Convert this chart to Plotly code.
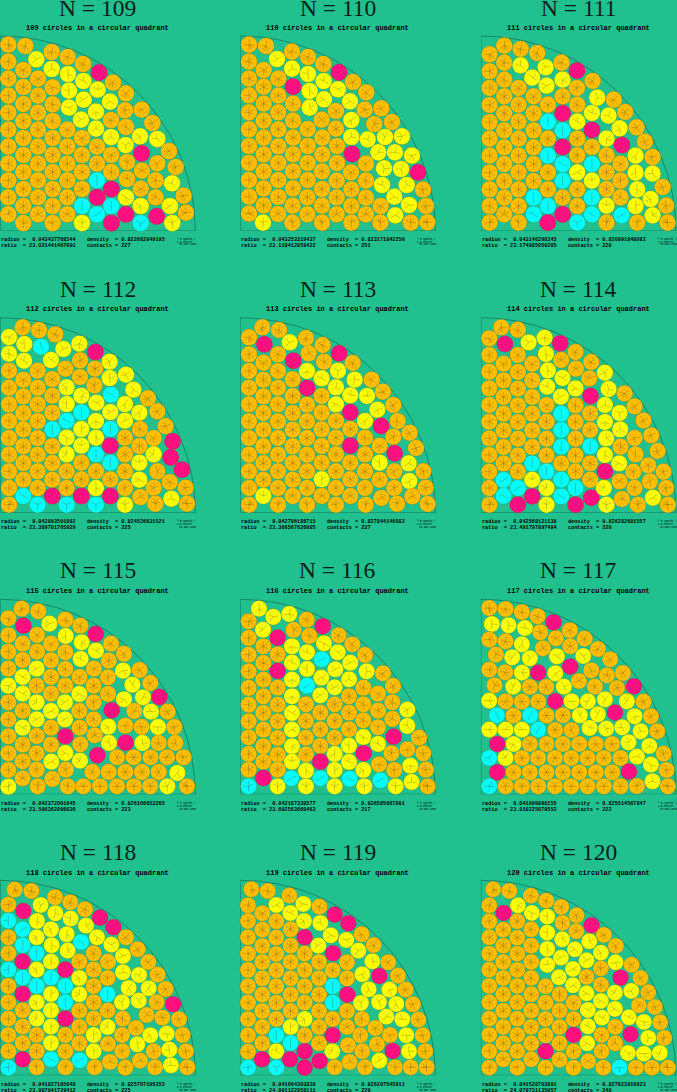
import numpy as np
import plotly.graph_objects as go

# circle centres, (x, y, colour code)
# o orange, y yellow, c cyan, m magenta
N109 = [(25,134,'o'),(25,185,'o'),(25,236,'o'),(25,287,'o'),(25,338,'o'),(25,389,'o'),(25,440,'o'),(25,491,'o'),(25,541,'o'),(25,592,'o'),(25,643,'o'),
        (76,138,'o'),(70,210,'o'),(70,261,'o'),(70,312,'o'),(70,363,'o'),(70,414,'o'),(70,465,'o'),(70,516,'o'),(70,567,'o'),(70,618,'o'),(70,669,'o'),
        (109,178,'y'),(114,236,'o'),(114,287,'o'),(114,338,'o'),(114,389,'o'),(114,440,'o'),(114,491,'o'),(114,541,'o'),(114,592,'o'),(114,643,'o'),
        (155,156,'o'),(155,207,'y'),(158,262,'o'),(158,313,'o'),(158,363,'o'),(158,414,'o'),(158,465,'o'),(158,516,'o'),(158,567,'o'),(158,618,'o'),(158,669,'o'),
        (203,171,'o'),(204,222,'y'),(207,272,'y'),(207,323,'y'),(202,389,'o'),(202,440,'o'),(202,491,'o'),(202,541,'o'),(202,592,'o'),(202,643,'o'),
        (249,192,'o'),(250,243,'y'),(251,299,'y'),(243,359,'y'),(246,414,'o'),(246,465,'o'),(246,516,'o'),(246,567,'o'),(246,618,'c'),(246,669,'y'),
        (297,218,'m'),(293,269,'y'),(288,335,'y'),(288,386,'y'),(291,440,'o'),(291,491,'o'),(291,541,'c'),(291,592,'m'),(291,643,'c'),
        (339,248,'o'),(330,305,'y'),(333,360,'o'),(333,411,'y'),(334,465,'o'),(334,516,'o'),(334,567,'m'),(334,618,'c'),(334,669,'m'),
        (378,280,'o'),(375,331,'o'),(378,381,'o'),(377,435,'y'),(381,486,'o'),(381,537,'o'),(378,592,'y'),(378,643,'m'),
        (425,329,'o'),(420,409,'y'),(425,460,'m'),(426,512,'o'),(422,566,'o'),(422,618,'y'),(422,669,'c'),
        (457,369,'o'),(472,417,'y'),(472,490,'o'),(467,541,'o'),(467,592,'o'),(470,649,'m'),
        (507,453,'o'),(527,501,'o'),(516,550,'y'),(510,618,'y'),(517,669,'y'),(551,587,'o'),(558,638,'o')]

N110 = [(39,44,'o'),(39,95,'o'),(39,146,'o'),(39,196,'o'),(39,247,'o'),(39,298,'o'),(39,348,'o'),(39,399,'o'),(39,450,'o'),(39,500,'o'),(39,551,'o'),
        (90,48,'o'),(83,120,'o'),(83,170,'o'),(83,221,'o'),(83,272,'o'),(83,323,'o'),(83,373,'o'),(83,424,'o'),(83,475,'o'),(83,526,'o'),(81,578,'y'),
        (123,87,'y'),(127,146,'o'),(127,197,'o'),(127,247,'o'),(127,298,'o'),(127,349,'o'),(127,399,'o'),(127,450,'o'),(127,501,'o'),(126,552,'o'),
        (168,65,'o'),(168,116,'y'),(171,170,'m'),(171,221,'o'),(171,272,'o'),(171,323,'o'),(171,373,'o'),(171,424,'o'),(171,475,'o'),(170,527,'o'),(169,578,'o'),
        (216,81,'o'),(216,132,'y'),(221,183,'y'),(221,233,'y'),(215,297,'o'),(215,348,'o'),(215,399,'o'),(215,450,'o'),(214,502,'o'),(214,553,'o'),
        (262,102,'o'),(263,153,'y'),(264,208,'y'),(257,269,'o'),(259,323,'o'),(259,373,'o'),(258,424,'o'),(258,477,'o'),(258,527,'o'),(258,578,'o'),
        (309,127,'m'),(306,178,'y'),(300,243,'o'),(300,296,'o'),(303,348,'o'),(303,399,'o'),(302,452,'o'),(302,502,'o'),(302,553,'o'),
        (351,156,'o'),(342,214,'y'),(346,270,'y'),(346,321,'y'),(348,372,'m'),(345,427,'o'),(346,478,'o'),(346,528,'o'),(346,578,'o'),
        (391,187,'o'),(386,239,'o'),(395,328,'y'),(390,401,'o'),(390,452,'o'),(390,503,'o'),(390,553,'o'),
        (436,235,'o'),(415,282,'o'),(447,321,'y'),(427,367,'y'),(444,415,'y'),(438,465,'y'),(434,528,'o'),(433,578,'o'),
        (468,276,'o'),(498,319,'y'),(477,367,'y'),(495,417,'y'),(475,500,'y'),(478,556,'y'),
        (528,377,'y'),(546,427,'m'),(512,465,'y'),(519,525,'y'),(561,479,'o'),(570,528,'o'),(524,578,'o'),(574,577,'o')]

N111 = [(39,73,'o'),(39,124,'o'),(39,174,'o'),(39,225,'o'),(39,276,'o'),(39,326,'o'),(39,377,'o'),(39,428,'o'),(39,478,'o'),(39,528,'o'),(39,578,'o'),
        (83,47,'o'),(83,98,'o'),(83,149,'o'),(83,199,'o'),(83,250,'o'),(83,301,'o'),(83,352,'o'),(83,402,'o'),(83,453,'o'),(83,503,'o'),(83,553,'o'),
        (132,57,'o'),(132,106,'y'),(126,174,'o'),(126,224,'o'),(126,275,'o'),(126,326,'o'),(126,377,'o'),(126,427,'o'),(126,478,'o'),(126,528,'o'),(126,578,'o'),
        (167,143,'y'),(182,69,'o'),(171,199,'o'),(171,250,'o'),(171,301,'o'),(171,352,'o'),(171,402,'o'),(171,453,'o'),(171,503,'c'),(171,553,'c'),
        (207,112,'y'),(210,167,'y'),(214,224,'o'),(214,275,'c'),(214,326,'o'),(214,377,'c'),(214,427,'o'),(214,478,'o'),(214,528,'c'),(214,578,'m'),
        (255,98,'o'),(258,149,'y'),(258,199,'o'),(258,250,'m'),(258,301,'c'),(258,351,'m'),(258,402,'c'),(258,452,'c'),(258,503,'o'),(258,553,'m'),
        (301,122,'m'),(301,174,'o'),(302,224,'o'),(302,275,'y'),(302,326,'o'),(302,376,'o'),(302,427,'y'),(302,478,'o'),(302,528,'o'),(302,578,'c'),
        (348,153,'o'),(346,249,'y'),(346,300,'m'),(346,351,'o'),(346,402,'c'),(346,452,'y'),(346,503,'c'),(346,553,'c'),(362,203,'y'),
        (412,209,'o'),(396,257,'y'),(390,326,'y'),(390,376,'o'),(390,427,'o'),(390,477,'o'),(390,527,'y'),(390,578,'o'),
        (432,401,'o'),(432,452,'o'),(432,502,'o'),(435,556,'c'),
        (477,377,'y'),(477,428,'y'),(482,478,'y'),(477,528,'y'),(482,578,'o'),
        (528,381,'o'),(528,431,'y'),(522,507,'y'),(528,556,'y'),(573,578,'o'),(569,527,'o'),(558,471,'o'),
        (446,246,'o'),(429,295,'y'),(436,345,'m'),(480,292,'o'),(505,335,'o')]

N112 = [(27,75,'y'),(27,125,'y'),(27,176,'o'),(27,227,'o'),(27,277,'o'),(27,327,'o'),(27,378,'o'),(27,428,'o'),(27,478,'o'),(27,528,'o'),(27,578,'o'),
        (68,46,'o'),(73,96,'y'),(72,146,'y'),(70,203,'o'),(70,253,'o'),(70,303,'o'),(70,352,'o'),(70,403,'o'),(70,453,'o'),(70,503,'o'),(70,552,'c'),
        (117,54,'o'),(123,104,'c'),(113,176,'o'),(113,227,'o'),(113,277,'o'),(113,327,'o'),(113,378,'o'),(113,428,'o'),(113,478,'o'),(113,528,'o'),(113,578,'c'),
        (166,67,'o'),(153,144,'y'),(157,201,'o'),(157,251,'o'),(157,302,'o'),(157,352,'c'),(157,403,'o'),(157,453,'o'),(157,503,'o'),(157,552,'m'),
        (190,111,'y'),(196,170,'o'),(200,226,'y'),(200,276,'y'),(200,326,'c'),(200,377,'y'),(200,427,'y'),(200,478,'o'),(200,528,'o'),(200,578,'c'),
        (238,95,'y'),(240,145,'o'),(240,195,'o'),(244,251,'y'),(244,301,'c'),(244,351,'y'),(244,401,'y'),(244,452,'o'),(244,502,'o'),(244,552,'m'),
        (286,120,'m'),(285,170,'o'),(283,220,'o'),(289,272,'y'),(288,327,'y'),(288,377,'y'),(288,427,'c'),(288,478,'o'),(288,528,'y'),(288,578,'c'),
        (329,149,'y'),(329,198,'y'),(333,248,'c'),(331,300,'y'),(331,351,'c'),(331,401,'m'),(331,452,'c'),(331,502,'o'),(331,552,'m'),
        (378,188,'y'),(400,233,'y'),(375,276,'y'),(375,326,'y'),(375,377,'o'),(375,427,'o'),(375,478,'o'),(375,528,'o'),(375,578,'y'),
        (444,259,'o'),(418,302,'y'),(420,351,'o'),(418,402,'o'),(418,452,'y'),(418,503,'y'),(421,555,'o'),
        (472,298,'o'),(461,378,'o'),(461,427,'y'),(472,478,'o'),(461,527,'o'),(466,575,'o'),
        (497,342,'o'),(518,388,'m'),(512,436,'m'),(546,473,'m'),(509,510,'o'),(514,560,'y'),(557,527,'o'),(561,575,'o')]

N113 = [(747,76,'o'),(747,127,'o'),(747,177,'o'),(747,227,'o'),(747,277,'o'),(747,328,'o'),(747,378,'o'),(747,428,'o'),(747,478,'o'),(747,528,'o'),(747,578,'o'),
        (787,46,'o'),(793,97,'m'),(790,152,'o'),(790,203,'o'),(790,253,'o'),(790,303,'o'),(790,353,'o'),(790,403,'o'),(790,453,'o'),(790,503,'o'),(790,552,'y'),
        (837,54,'o'),(834,127,'o'),(834,177,'o'),(834,227,'o'),(834,277,'o'),(834,328,'o'),(834,378,'o'),(834,428,'o'),(834,478,'o'),(834,528,'o'),(834,578,'o'),
        (869,91,'y'),(880,146,'m'),(878,202,'o'),(878,252,'o'),(878,303,'o'),(878,353,'o'),(878,403,'o'),(878,453,'o'),(878,503,'o'),(878,552,'o'),
        (918,78,'o'),(926,124,'o'),(921,177,'y'),(921,228,'m'),(921,278,'o'),(921,328,'o'),(921,378,'o'),(921,428,'o'),(921,478,'o'),(921,528,'o'),(921,578,'o'),
        (968,99,'o'),(972,149,'o'),(965,199,'y'),(965,252,'o'),(965,302,'o'),(965,352,'o'),(965,402,'o'),(965,452,'o'),(965,502,'y'),(965,552,'o'),
        (1017,124,'m'),(1014,176,'y'),(1008,226,'y'),(1008,277,'y'),(1008,327,'o'),(1008,377,'o'),(1008,427,'o'),(1008,478,'o'),(1008,528,'o'),(1008,578,'o'),
        (1058,153,'o'),(1064,203,'y'),(1051,250,'y'),(1051,301,'m'),(1051,351,'o'),(1051,401,'m'),(1051,452,'o'),(1051,502,'o'),(1051,552,'o'),
        (1115,203,'o'),(1101,252,'y'),(1095,327,'y'),(1095,377,'o'),(1095,427,'o'),(1095,478,'o'),(1095,528,'o'),(1097,578,'o'),
        (1149,239,'o'),(1132,293,'y'),(1143,342,'m'),(1139,401,'o'),(1139,452,'y'),(1139,503,'o'),(1144,558,'o'),
        (1180,279,'o'),(1193,327,'o'),(1180,374,'o'),(1184,424,'m'),(1183,478,'o'),(1183,528,'o'),(1191,575,'o'),
        (1229,362,'o'),(1248,408,'o'),(1226,454,'y'),(1228,507,'y'),(1237,553,'o'),(1270,478,'o'),(1277,527,'o'),(1283,576,'o')]

N114 = [(38,79,'o'),(38,129,'o'),(38,179,'o'),(38,229,'o'),(38,279,'o'),(38,329,'o'),(38,379,'o'),(38,429,'o'),(38,479,'o'),(38,528,'o'),(38,578,'o'),
        (74,46,'o'),(85,96,'m'),(81,155,'o'),(81,205,'o'),(81,255,'o'),(81,305,'o'),(81,355,'o'),(81,405,'o'),(81,454,'o'),(81,504,'c'),(81,552,'c'),
        (124,53,'o'),(124,129,'o'),(124,180,'o'),(124,230,'o'),(124,280,'o'),(124,330,'o'),(124,380,'o'),(124,430,'o'),(124,479,'o'),(124,528,'c'),(124,578,'m'),
        (156,91,'y'),(167,155,'o'),(167,205,'o'),(167,255,'o'),(167,305,'o'),(167,355,'o'),(167,405,'o'),(167,454,'c'),(167,503,'y'),(167,553,'m'),
        (204,77,'y'),(208,126,'y'),(214,175,'y'),(212,224,'y'),(210,279,'o'),(210,329,'o'),(210,380,'o'),(210,430,'o'),(210,478,'c'),(210,528,'y'),(210,578,'y'),
        (251,94,'m'),(254,144,'o'),(258,198,'y'),(253,254,'y'),(254,305,'c'),(254,354,'c'),(254,404,'c'),(254,454,'o'),(254,503,'c'),(254,553,'c'),
        (297,120,'o'),(298,170,'o'),(297,229,'y'),(297,280,'o'),(297,330,'o'),(297,380,'o'),(297,430,'o'),(297,478,'o'),(297,528,'c'),(297,578,'m'),
        (344,150,'o'),(338,199,'o'),(342,252,'m'),(341,304,'o'),(341,354,'o'),(341,403,'c'),(341,454,'o'),(341,503,'o'),(344,557,'m'),
        (385,182,'y'),(396,231,'y'),(385,279,'y'),(385,330,'y'),(389,379,'y'),(385,429,'y'),(385,478,'m'),(382,528,'y'),(390,578,'y'),
        (444,244,'o'),(429,303,'y'),(431,352,'y'),(432,404,'o'),(428,454,'y'),(429,508,'o'),(436,561,'o'),
        (474,283,'o'),(501,325,'o'),(474,378,'o'),(477,427,'o'),(470,479,'o'),(474,528,'o'),(484,578,'o'),
        (524,370,'o'),(543,417,'o'),(515,460,'o'),(520,508,'o'),(529,557,'y'),(561,479,'o'),(569,528,'o'),(574,578,'o')]

N115 = [(25,73,'o'),(25,124,'o'),(25,173,'o'),(25,224,'o'),(25,275,'y'),(25,325,'o'),(25,376,'o'),(25,427,'o'),(25,478,'o'),(25,528,'o'),(25,578,'y'),
        (65,44,'o'),(70,95,'m'),(68,149,'o'),(68,198,'o'),(68,249,'y'),(68,299,'y'),(68,350,'o'),(68,401,'y'),(68,452,'o'),(68,502,'o'),(68,553,'o'),
        (115,52,'o'),(111,123,'o'),(111,173,'o'),(110,224,'y'),(110,275,'o'),(110,325,'y'),(110,376,'y'),(110,426,'o'),(110,478,'o'),(110,527,'o'),(113,577,'o'),
        (148,89,'y'),(153,149,'o'),(153,199,'o'),(153,249,'o'),(153,299,'o'),(153,351,'y'),(153,401,'o'),(153,452,'o'),(154,503,'y'),(157,555,'o'),
        (196,77,'o'),(197,126,'y'),(196,175,'o'),(196,225,'o'),(196,275,'o'),(195,325,'y'),(195,376,'y'),(196,427,'m'),(196,477,'y'),(198,527,'o'),(203,577,'o'),
        (241,95,'o'),(245,145,'y'),(242,195,'y'),(239,249,'o'),(238,300,'y'),(238,351,'o'),(239,401,'o'),(241,451,'o'),(240,500,'y'),(250,577,'o'),
        (287,120,'m'),(288,170,'y'),(282,224,'o'),(281,275,'o'),(281,325,'o'),(281,376,'o'),(284,424,'o'),(292,484,'m'),(277,534,'o'),(300,577,'o'),
        (333,149,'o'),(326,200,'o'),(324,250,'o'),(324,300,'o'),(335,349,'m'),(325,398,'y'),(327,447,'y'),(326,534,'o'),(351,577,'o'),(351,490,'o'),
        (372,179,'o'),(369,230,'y'),(397,272,'y'),(372,316,'y'),(403,351,'o'),(376,395,'o'),(377,446,'m'),(401,490,'o'),(376,534,'o'),(402,577,'o'),
        (419,228,'o'),(429,310,'y'),(425,399,'o'),(427,447,'y'),(452,490,'o'),(426,534,'o'),(451,577,'o'),
        (451,267,'o'),(478,309,'m'),(453,353,'y'),(474,399,'y'),(476,447,'o'),(501,490,'o'),(476,534,'o'),(502,577,'y'),
        (503,353,'o'),(523,399,'o'),(526,447,'o'),(551,490,'o'),(532,537,'y'),(561,577,'o')]

N116 = [(746,82,'o'),(746,132,'o'),(746,182,'o'),(746,232,'o'),(746,282,'o'),(746,332,'o'),(746,382,'o'),(746,430,'o'),(746,480,'o'),(746,527,'o'),(746,577,'c'),
        (777,44,'y'),(789,107,'y'),(790,157,'o'),(790,207,'o'),(790,257,'o'),(790,307,'o'),(790,357,'o'),(790,407,'o'),(790,457,'o'),(790,503,'o'),(790,552,'m'),
        (820,69,'y'),(833,131,'m'),(833,181,'o'),(833,231,'m'),(833,281,'o'),(833,332,'o'),(833,382,'o'),(833,432,'o'),(833,482,'o'),(833,527,'o'),(833,577,'y'),
        (868,60,'y'),(881,108,'o'),(876,157,'y'),(876,206,'y'),(876,257,'y'),(876,307,'y'),(876,357,'y'),(876,407,'y'),(876,457,'y'),(876,503,'y'),(874,553,'c'),
        (920,77,'o'),(928,126,'o'),(921,175,'y'),(921,225,'y'),(921,275,'c'),(918,331,'o'),(918,381,'o'),(918,431,'o'),(918,481,'o'),(918,530,'y'),(918,577,'y'),
        (968,97,'m'),(972,148,'y'),(965,196,'c'),(964,251,'y'),(961,304,'y'),(961,356,'o'),(961,406,'o'),(961,456,'o'),(961,503,'m'),(961,553,'c'),
        (1016,124,'o'),(1013,175,'y'),(1006,226,'y'),(1004,280,'y'),(1004,331,'o'),(1004,381,'o'),(1004,431,'o'),(1004,480,'y'),(1004,528,'y'),(1004,577,'y'),
        (1057,151,'o'),(1051,206,'y'),(1047,256,'y'),(1047,307,'o'),(1047,356,'o'),(1047,406,'o'),(1047,455,'y'),(1047,504,'y'),(1049,555,'c'),
        (1095,183,'o'),(1100,232,'y'),(1090,281,'o'),(1090,331,'o'),(1090,379,'o'),(1090,429,'y'),(1091,478,'m'),(1090,528,'y'),(1093,577,'y'),
        (1149,238,'o'),(1134,299,'o'),(1134,350,'o'),(1134,400,'o'),(1134,450,'y'),(1137,511,'o'),(1141,559,'c'),
        (1179,276,'o'),(1177,325,'o'),(1177,375,'o'),(1181,428,'m'),(1174,478,'o'),(1183,528,'o'),(1187,577,'y'),
        (1222,347,'y'),(1222,396,'y'),(1257,431,'o'),(1222,466,'o'),(1270,478,'o'),(1231,515,'y'),(1278,527,'o'),(1235,564,'y'),(1283,577,'o')]

N117 = [(38,42,'o'),(87,45,'o'),(136,54,'o'),(183,67,'o'),(231,85,'m'),
        (46,90,'y'),(96,94,'y'),(145,102,'y'),(191,115,'o'),(238,133,'o'),(280,109,'o'),
        (38,137,'o'),(87,142,'o'),(136,151,'y'),(199,163,'o'),(281,157,'o'),(324,134,'o'),(364,165,'o'),
        (58,182,'o'),(107,190,'y'),(160,193,'y'),(241,187,'y'),(320,186,'y'),(401,196,'o'),
        (38,227,'o'),(86,235,'o'),(136,236,'y'),(185,236,'m'),(236,238,'y'),(281,218,'m'),(344,229,'o'),(391,244,'o'),(439,237,'o'),
        (54,274,'o'),(110,278,'y'),(160,279,'o'),(209,279,'o'),(262,278,'y'),(307,261,'o'),(355,278,'o'),(421,282,'o'),(472,277,'m'),
        (38,320,'y'),(87,322,'o'),(136,323,'o'),(185,323,'o'),(236,322,'m'),(285,322,'y'),(334,322,'y'),(385,316,'y'),(451,322,'y'),(501,323,'o'),
        (61,364,'c'),(111,365,'o'),(161,364,'c'),(210,365,'o'),(259,364,'o'),(310,364,'y'),(364,361,'y'),(415,356,'m'),(474,367,'y'),(523,367,'o'),
        (38,407,'y'),(87,407,'y'),(136,407,'y'),(185,407,'c'),(236,408,'o'),(285,408,'o'),(339,402,'y'),(389,404,'y'),(437,400,'y'),(492,412,'y'),(542,412,'o'),
        (62,450,'m'),(111,450,'y'),(160,450,'o'),(210,450,'o'),(259,450,'o'),(308,450,'o'),(358,450,'o'),(407,450,'o'),(456,445,'y'),(518,456,'y'),(561,479,'o'),
        (38,492,'c'),(87,492,'y'),(136,492,'o'),(185,492,'o'),(235,492,'o'),(284,492,'o'),(333,492,'o'),(382,492,'o'),(432,492,'o'),(481,488,'y'),(523,512,'y'),(570,528,'o'),
        (62,535,'m'),(111,535,'o'),(160,535,'o'),(210,535,'o'),(259,535,'o'),(308,535,'o'),(358,535,'o'),(407,535,'o'),(457,533,'m'),
        (38,577,'c'),(87,577,'o'),(136,577,'o'),(185,577,'o'),(235,577,'o'),(284,577,'o'),(333,577,'o'),(382,577,'o'),(432,577,'o'),(481,576,'o'),(528,562,'y'),(574,577,'o')]

N118 = [(25,86,'o'),(25,134,'c'),(25,184,'o'),(25,232,'o'),(25,281,'c'),(25,330,'o'),(25,379,'o'),(25,428,'o'),(25,477,'o'),(25,526,'o'),(25,575,'c'),
        (44,41,'o'),(70,105,'m'),(68,160,'c'),(68,208,'c'),(68,257,'m'),(68,305,'c'),(68,354,'m'),(68,403,'o'),(68,452,'o'),(68,501,'o'),(68,550,'m'),
        (94,45,'o'),(122,87,'y'),(111,135,'y'),(110,184,'y'),(110,232,'c'),(110,281,'y'),(110,330,'c'),(110,379,'y'),(110,428,'y'),(110,477,'o'),(110,526,'o'),(110,574,'o'),
        (165,64,'o'),(166,112,'y'),(153,160,'y'),(155,208,'y'),(153,257,'y'),(153,305,'c'),(153,354,'y'),(153,403,'y'),(153,452,'y'),(153,501,'y'),(153,550,'c'),
        (211,79,'o'),(212,128,'y'),(200,175,'y'),(203,224,'y'),(196,281,'m'),(196,330,'c'),(196,379,'c'),(196,428,'m'),(196,477,'o'),(196,526,'o'),(196,574,'o'),
        (255,100,'o'),(258,149,'y'),(243,198,'c'),(238,257,'o'),(238,306,'y'),(238,355,'y'),(238,404,'o'),(238,453,'o'),(238,502,'o'),(239,553,'c'),
        (300,125,'m'),(291,184,'y'),(281,232,'o'),(281,281,'o'),(281,330,'o'),(281,379,'o'),(281,428,'o'),(281,477,'y'),(281,526,'y'),(284,574,'o'),
        (340,154,'m'),(334,206,'y'),(324,257,'o'),(323,306,'o'),(323,355,'c'),(323,404,'o'),(323,453,'y'),(324,504,'o'),(330,558,'o'),
        (378,184,'o'),(369,240,'y'),(369,289,'y'),(386,336,'y'),(366,379,'y'),(368,428,'o'),(366,477,'o'),(367,526,'o'),(376,575,'o'),
        (413,220,'o'),(417,297,'y'),(416,374,'y'),(440,417,'o'),(408,456,'o'),(412,505,'y'),(420,554,'o'),
        (445,258,'o'),(473,296,'o'),(446,337,'y'),(470,379,'o'),(487,425,'o'),(451,478,'y'),(461,526,'o'),(465,574,'o'),
        (497,339,'o'),(519,385,'m'),(537,430,'o'),(500,473,'y'),(548,477,'o'),(508,521,'y'),(558,526,'o'),(513,568,'y'),(562,574,'o')]

N119 = [(747,88,'o'),(747,135,'o'),(747,184,'o'),(747,233,'o'),(747,282,'o'),(747,331,'o'),(747,380,'o'),(747,429,'o'),(747,478,'o'),(747,527,'o'),(747,575,'c'),
        (757,40,'o'),(806,45,'o'),(790,112,'o'),(790,161,'o'),(790,210,'o'),(790,258,'o'),(790,307,'o'),(790,356,'o'),(790,405,'o'),(790,453,'o'),(790,502,'o'),(789,550,'m'),
        (832,87,'y'),(832,136,'o'),(832,185,'o'),(832,234,'o'),(832,283,'o'),(832,331,'o'),(832,380,'o'),(832,429,'o'),(832,478,'c'),(832,526,'y'),(832,575,'c'),
        (871,59,'o'),(874,111,'y'),(875,160,'o'),(875,209,'o'),(875,258,'o'),(875,307,'o'),(875,356,'o'),(875,405,'o'),(875,453,'y'),(875,501,'c'),(873,550,'m'),
        (913,84,'y'),(915,135,'y'),(917,184,'m'),(917,233,'o'),(917,282,'o'),(917,331,'o'),(917,380,'o'),(917,429,'y'),(917,478,'o'),(917,526,'m'),(917,575,'m'),
        (961,92,'o'),(964,141,'y'),(958,209,'y'),(960,258,'o'),(960,307,'o'),(960,356,'o'),(960,405,'o'),(960,453,'o'),(960,502,'o'),(962,555,'m'),
        (1007,116,'m'),(995,178,'y'),(1002,232,'m'),(1001,283,'o'),(1001,331,'c'),(1001,380,'c'),(1001,429,'o'),(1001,478,'m'),(1000,526,'y'),(1007,574,'o'),
        (1048,142,'m'),(1042,192,'y'),(1044,259,'o'),(1044,307,'o'),(1045,356,'m'),(1044,405,'o'),(1044,453,'o'),(1047,508,'o'),(1052,558,'o'),
        (1088,175,'o'),(1078,224,'y'),(1120,256,'y'),(1090,295,'y'),(1086,381,'y'),(1089,429,'o'),(1084,478,'o'),(1090,526,'o'),(1098,574,'o'),
        (1124,207,'o'),(1168,259,'o'),(1109,340,'y'),(1141,300,'m'),(1140,378,'y'),(1129,456,'o'),(1134,505,'o'),(1141,554,'y'),
        (1197,299,'o'),(1171,341,'y'),(1192,384,'y'),(1162,422,'y'),(1173,477,'o'),(1181,525,'m'),(1188,574,'o'),
        (1220,341,'o'),(1242,385,'o'),(1210,430,'y'),(1258,431,'o'),(1222,478,'y'),(1230,526,'y'),(1271,478,'o'),(1279,526,'o'),(1235,574,'o'),(1283,574,'o')]

N120 = [(38,88,'o'),(38,136,'o'),(38,184,'o'),(38,233,'o'),(38,281,'o'),(38,330,'o'),(38,379,'o'),(38,428,'o'),(38,477,'o'),(38,526,'o'),(38,575,'o'),
        (50,40,'o'),(98,45,'o'),(81,111,'m'),(80,161,'o'),(80,209,'o'),(80,258,'o'),(80,306,'o'),(80,355,'o'),(80,404,'o'),(80,453,'o'),(80,502,'o'),(80,550,'o'),
        (124,88,'y'),(122,136,'o'),(122,185,'o'),(122,233,'o'),(122,282,'o'),(122,330,'o'),(122,379,'o'),(122,428,'o'),(122,477,'o'),(122,526,'o'),(122,575,'o'),
        (163,59,'o'),(166,111,'y'),(164,160,'o'),(164,209,'o'),(164,258,'o'),(164,306,'o'),(164,355,'o'),(164,404,'o'),(164,453,'o'),(164,502,'o'),(164,550,'o'),
        (209,74,'o'),(212,122,'y'),(212,170,'y'),(212,219,'y'),(212,267,'y'),(207,331,'o'),(207,380,'o'),(207,429,'o'),(207,478,'o'),(207,526,'m'),(207,575,'o'),
        (254,93,'o'),(258,141,'o'),(257,190,'y'),(253,245,'y'),(247,304,'y'),(249,355,'o'),(249,404,'o'),(249,453,'o'),(249,502,'o'),(249,551,'o'),
        (300,118,'o'),(299,166,'o'),(295,220,'y'),(289,279,'y'),(289,328,'y'),(291,380,'o'),(291,429,'o'),(291,477,'m'),(291,526,'o'),(291,575,'o'),
        (345,148,'m'),(338,196,'y'),(330,253,'y'),(330,303,'o'),(330,352,'y'),(334,402,'y'),(334,451,'y'),(332,502,'y'),(335,556,'o'),
        (382,177,'o'),(373,230,'y'),(373,277,'o'),(373,326,'o'),(373,375,'y'),(376,425,'y'),(375,477,'o'),(375,526,'o'),(380,575,'o'),
        (418,210,'o'),(417,259,'y'),(432,305,'m'),(415,350,'y'),(415,399,'y'),(416,453,'o'),(416,502,'o'),(429,575,'c'),
        (465,266,'o'),(464,345,'y'),(457,424,'y'),(462,475,'m'),(454,531,'y'),(478,575,'o'),
        (492,306,'o'),(515,349,'o'),(487,388,'o'),(535,393,'o'),(502,438,'y'),(551,439,'o'),(515,486,'y'),(563,486,'o'),(502,533,'y'),(550,531,'y'),(526,575,'o'),(574,575,'o')]

circles = [N109, N110, N111, N112, N113, N114, N115, N116, N117, N118, N119, N120]
counts = [109, 110, 111, 112, 113, 114, 115, 116, 117, 118, 119, 120]
radius = ["0.043437768544", "0.043253319437", "0.043146296345", "0.042993591892", "0.042796186715", "0.042568121138",
          "0.042372961945", "0.042187330577", "0.041999098155", "0.041827105648", "0.041664363839", "0.041528703891"]
ratio = ["23.021441467091", "23.119412858422", "23.174985959205", "23.309701705929", "23.366567626005", "23.491797897494",
         "23.596362096036", "23.692563660463", "23.810225079552", "23.907941729412", "24.001122058111", "24.079731135057"]
density = ["0.822662049195", "0.823171842250", "0.826991848082", "0.824526631521", "0.827844146002", "0.826282681557",
           "0.826166653265", "0.826585687001", "0.825514567847", "0.825767196355", "0.826297545911", "0.827823916623"]
contacts = [227, 251, 220, 225, 237, 220, 223, 217, 222, 225, 229, 240]

# where each quadrant's corner sits in the digitised coordinates
corner_x = [1, 13, 13, 1, 721, 13, 1, 721, 13, 1, 724, 13]
corner_y = [693, 603, 603, 602, 602, 602, 601, 601, 601, 598, 598, 598]
DIGITISED_R = 585.0

W, H = 677, 1092
R_PX = 195.0
left_px = [0.33, 240.33, 480.9]
bottom_px = [231.0, 512.7, 794.3, 1075.3]
title_y = [8, 289, 570, 852]
sub_y = [28, 309, 591, 873]
foot_y = [240, 522, 804, 1085]

BG = "#20c08f"
EDGE = "#11705a"
COLORS = {"o": "#ffbf00", "y": "#ffff00", "c": "#00ffff", "m": "#ff0f7f"}
SPOKE = "rgba(80,70,20,0.65)"


def spokes(x, y, codes, r):
    """Short contact ticks from each centre, picked from the nearest neighbours"""
    xs, ys = [], []
    pts = np.column_stack([x, y])
    for i, p in enumerate(pts):
        d = np.hypot(*(pts - p).T)
        d[i] = 9
        order = np.argsort(d)
        if codes[i] == "m":
            xs += [p[0] - 0.03 * r, p[0] + 0.03 * r, None]
            ys += [p[1], p[1], None]
            continue
        if codes[i] == "c":
            # two contacts sit opposite each other
            near = order[:5]
            best, pair = 9, near[:2]
            for a in near:
                for b in near:
                    if a < b:
                        u = (pts[a] - p) / d[a]
                        v = (pts[b] - p) / d[b]
                        if u @ v < best and d[a] < 2.35 * r and d[b] < 2.35 * r:
                            best, pair = u @ v, (a, b)
            chosen = list(pair)
        elif codes[i] == "y":
            chosen = list(order[:3])
        else:
            chosen = [j for j in order[:6] if d[j] < 2.12 * r]
            if len(chosen) < 4:
                chosen = list(order[:4])
        # the walls count as contacts too
        dirs = [(pts[j] - p) / d[j] for j in chosen]
        if p[0] < 1.1 * r:
            dirs.append(np.array([-1.0, 0.0]))
        if p[1] < 1.1 * r:
            dirs.append(np.array([0.0, -1.0]))
        if np.hypot(*p) > 1 - 1.1 * r:
            dirs.append(p / np.hypot(*p))
        for u in dirs:
            xs += [p[0], p[0] + 0.62 * r * u[0], None]
            ys += [p[1], p[1] + 0.62 * r * u[1], None]
    return xs, ys


fig = go.Figure()
layout_axes = {}
annotations = []
shapes = []


def text(px, py, s, size, family, anchor="center", color="#000000"):
    annotations.append(dict(x=px / W, y=1 - py / H, xref="paper", yref="paper", text=s, showarrow=False,
                            xanchor=anchor, yanchor="middle", borderpad=0,
                            font=dict(size=size, family=family, color=color), align="left"))


for k in range(12):
    row, col = k // 3, k % 3
    sfx = "" if k == 0 else str(k + 1)
    x0 = left_px[col]
    y0 = bottom_px[row]
    r = float(radius[k])

    layout_axes["xaxis" + sfx] = dict(domain=[x0 / W, (x0 + R_PX * 1.005) / W], range=[0, 1.005], visible=False, fixedrange=True)
    layout_axes["yaxis" + sfx] = dict(domain=[1 - y0 / H, 1 - (y0 - R_PX * 1.005) / H], range=[0, 1.005], visible=False, fixedrange=True)

    shapes.append(dict(type="circle", xref="x" + sfx, yref="y" + sfx, x0=-1, x1=1, y0=-1, y1=1,
                       line=dict(color=EDGE, width=0.7), layer="below"))

    ux = np.array([(c[0] - corner_x[k]) / DIGITISED_R for c in circles[k]])
    uy = np.array([(corner_y[k] - c[1]) / DIGITISED_R for c in circles[k]])
    codes = [c[2] for c in circles[k]]

    fig.add_trace(go.Scatter(x=[0, 0, 1], y=[1, 0, 0], mode="lines", line=dict(color=EDGE, width=0.8),
                             xaxis="x" + sfx, yaxis="y" + sfx, cliponaxis=False, hoverinfo="skip"))
    fig.add_trace(go.Scatter(x=ux, y=uy, mode="markers", xaxis="x" + sfx, yaxis="y" + sfx, cliponaxis=False,
                             marker=dict(size=2 * r * R_PX - 0.2, color=[COLORS[c] for c in codes],
                                         line=dict(color="rgba(110,90,20,0.55)", width=0.4)),
                             hoverinfo="skip"))
    sx, sy = spokes(ux, uy, codes, r)
    fig.add_trace(go.Scatter(x=sx, y=sy, mode="lines", xaxis="x" + sfx, yaxis="y" + sfx, cliponaxis=False,
                             line=dict(color=SPOKE, width=0.45), hoverinfo="skip"))

    cx = x0 + 97.5
    text(cx, title_y[row], "N = %d" % counts[k], 23.5, "Liberation Serif", color="#0b1f18")
    text(cx, sub_y[row], "<b>%d circles in a circular quadrant</b>" % counts[k], 7, "Liberation Mono")
    text(x0 - 0.3, foot_y[row], "<b>radius = &nbsp;%s</b>" % radius[k], 5.2, "Liberation Mono", "left")
    text(x0 - 0.3, foot_y[row] + 6, "<b>ratio &nbsp;= %s</b>" % ratio[k], 5.2, "Liberation Mono", "left")
    text(x0 + 86, foot_y[row], "<b>density &nbsp;= %s</b>" % density[k], 5.2, "Liberation Mono", "left")
    text(x0 + 86, foot_y[row] + 6, "<b>contacts = %d</b>" % contacts[k], 5.2, "Liberation Mono", "left")
    text(x0 + 176, foot_y[row] - 1, "© E.Specht /", 2.6, "Liberation Mono", "left")
    text(x0 + 176, foot_y[row] + 2, "C.D.Foster", 2.6, "Liberation Mono", "left")
    text(x0 + 178, foot_y[row] + 5, "10-Nov-2010", 2.6, "Liberation Mono", "left")

fig.update_layout(width=W, height=H, margin=dict(l=0, r=0, t=0, b=0), paper_bgcolor=BG, plot_bgcolor="rgba(0,0,0,0)",
                  showlegend=False, shapes=shapes, annotations=annotations, **layout_axes)

fig.write_html("out.html", config={"displayModeBar": False, "responsive": False},
               post_script="document.body.style.margin='0';document.body.style.background='" + BG + "';")
